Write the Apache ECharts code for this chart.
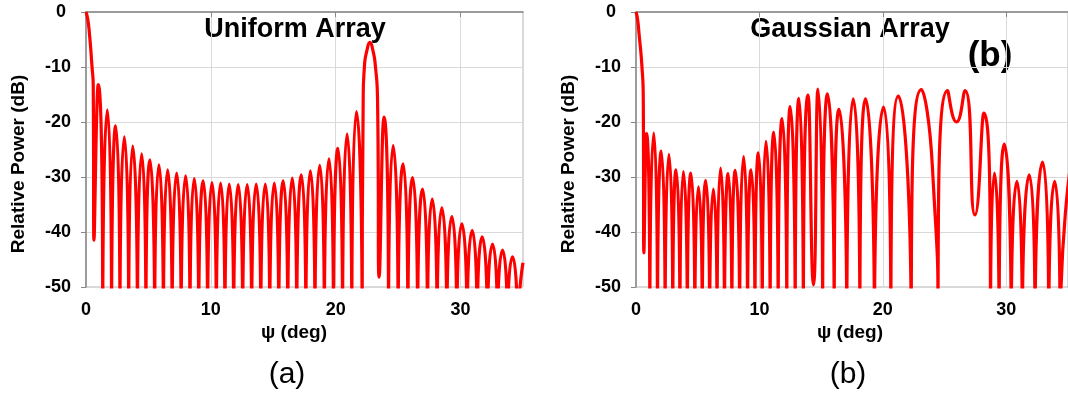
<!DOCTYPE html>
<html>
<head>
<meta charset="utf-8">
<script src="https://cdn.jsdelivr.net/npm/echarts@6/dist/echarts.min.js"></script>
<style>
  html, body { margin: 0; padding: 0; background: #ffffff; }
  #chart { width: 1068px; height: 398px; }
</style>
</head>
<body>
<div id="chart"></div>
<script>
// Axis ticks
const psiTicks = [0, 10, 20, 30];
const dbTicks = [0, -10, -20, -30, -40, -50];

// ---- (a) Uniform array: relative power (dB) versus ψ (deg) ----
// main-lobe roll-off from boresight
const uniformMainLobe = [[0, 0], [0.13, -1.2], [0.27, -3.8], [0.48, -9.9], [0.58, -13.5]];
// flanks of the grating lobe
const uniformGratingLobe = [
  [22.20, -16.0], [22.30, -9.9], [22.51, -6.9],
  [22.97, -6.9], [23.18, -9.9], [23.35, -16.0]
];
// lobe maxima (sidelobes, grating lobe near 22.7°)
const uniformPeaks = [
  [0.98, -13.2], [1.71, -17.8], [2.38, -20.7], [3.07, -22.7], [3.74, -24.4],
  [4.46, -25.8], [5.12, -26.9], [5.84, -27.8], [6.54, -28.7], [7.26, -29.3],
  [7.98, -29.8], [8.67, -30.3], [9.39, -30.7], [10.09, -31.0], [10.78, -31.1],
  [11.47, -31.3], [12.19, -31.4], [12.91, -31.4], [13.63, -31.3], [14.36, -31.3],
  [15.08, -31.1], [15.80, -30.7], [16.52, -30.2], [17.25, -29.6], [17.97, -28.9],
  [18.72, -27.9], [19.46, -26.7], [20.18, -24.8], [20.91, -22.2], [21.66, -18.1],
  [22.74, -5.5],
  [23.86, -19.1], [24.60, -24.3], [25.40, -27.6], [26.16, -30.1], [26.96, -32.2],
  [27.73, -34.0], [28.50, -35.6], [29.30, -37.2], [30.10, -38.5], [30.93, -39.7],
  [31.73, -40.9], [32.56, -42.2], [33.36, -43.3], [34.16, -44.5], [35.00, -45.6]
];
// nulls whose bottom stays inside the plotted range
const uniformShallowNulls = [[0.64, -41.5], [23.48, -48.2]];
// nulls that fall below the -50 dB floor
const uniformDeepNulls = [
  1.34, 2.05, 2.72, 3.42, 4.12, 4.80, 5.50, 6.20, 6.90, 7.62, 8.33, 9.03, 9.74,
  10.44, 11.13, 11.83, 12.55, 13.27, 14.00, 14.72, 15.44, 16.16, 16.88, 17.61,
  18.34, 19.09, 19.82, 20.55, 21.29, 22.12,
  24.23, 25.00, 25.78, 26.56, 27.35, 28.12, 28.90, 29.70, 30.52, 31.33, 32.15,
  32.96, 33.76, 34.56
];

// ---- (b) Gaussian array ----
const gaussMainLobe = [[0, 0], [0.12, -1.2], [0.24, -3.8], [0.48, -9.9], [0.59, -15.9]];
const gaussPeaks = [
  [0.85, -22.1], [1.44, -22.0], [2.05, -25.3], [2.67, -25.9], [3.25, -28.7],
  [3.84, -29.0], [4.45, -29.3], [5.06, -31.8], [5.65, -30.6], [6.27, -32.2],
  [6.85, -28.4], [7.47, -29.4], [8.05, -28.8], [8.72, -26.3], [9.33, -28.7],
  [9.92, -25.6], [10.53, -23.5], [11.17, -21.9], [11.84, -19.4], [12.50, -17.2],
  [13.20, -15.7], [13.94, -15.1], [14.74, -14.0], [15.52, -14.9], [16.45, -17.7],
  [17.60, -15.8], [18.60, -15.8], [20.06, -17.3], [21.25, -15.3], [23.12, -14.1],
  [25.25, -14.3], [26.66, -14.3], [28.18, -18.4], [29.04, -29.3], [29.84, -24.0],
  [30.86, -30.8], [31.86, -29.6], [32.94, -27.3], [33.92, -30.8], [35.20, -28.0]
];
// shallow nulls, dips between merged lobes, and the shoulder after 23°
const gaussShallowNulls = [[0.64, -43.8], [14.38, -49.6], [25.97, -20.0], [27.46, -36.9]];
const gaussShoulders = [[24.02, -28.4]];
const gaussDeepNulls = [
  1.12, 1.74, 2.36, 2.98, 3.56, 4.16, 4.77, 5.37, 5.97, 6.57, 7.17, 7.77, 8.40,
  9.04, 9.64, 10.23, 10.87, 11.52, 12.22, 12.90, 13.56,
  15.12, 16.06, 17.08, 18.14, 19.32, 20.65, 22.30, 24.47,
  28.72, 29.42, 30.40, 31.30, 32.33, 33.44, 34.36
];

const Y_MIN = -50;
const NULL_DEPTH = -120;   // level used for nulls that drop off the plot
const NULL_KNEE = -60;     // where the drop into a null becomes vertical

// Merge the sampled features into one ordered trace; deep nulls are drawn
// as a vertical drop so the lobes keep their rounded tops and steep sides.
function buildTrace(parts, deepPsi) {
  const pts = [].concat(...parts, deepPsi.map(p => [p, NULL_DEPTH]));
  pts.sort((a, b) => a[0] - b[0]);
  const out = [];
  pts.forEach(p => {
    if (p[1] < Y_MIN) {
      out.push([p[0], NULL_KNEE], p, [p[0], NULL_KNEE]);
    } else {
      out.push(p);
    }
  });
  return out;
}

const uniformTrace = buildTrace(
  [uniformMainLobe, uniformGratingLobe, uniformPeaks, uniformShallowNulls], uniformDeepNulls);
const gaussTrace = buildTrace(
  [gaussMainLobe, gaussPeaks, gaussShallowNulls, gaussShoulders], gaussDeepNulls);

const FONT = '"Liberation Sans", Arial, Helvetica, sans-serif';
const AXIS_GREY = '#878787';
const GRID_GREY = '#d9d9d9';

function xAxisFor(gridIndex) {
  return {
    type: 'value', gridIndex: gridIndex, min: 0, max: 35, interval: 10,
    axisLine: { show: true, lineStyle: { color: AXIS_GREY, width: 1.5 } },
    axisTick: { show: true, length: 5, customValues: psiTicks, lineStyle: { color: AXIS_GREY, width: 1 } },
    axisLabel: {
      customValues: psiTicks, margin: 14,
      color: '#000', fontFamily: FONT, fontWeight: 'bold', fontSize: 18
    },
    splitLine: { show: true, lineStyle: { color: GRID_GREY, width: 1 } }
  };
}
function yAxisFor(gridIndex) {
  return {
    type: 'value', gridIndex: gridIndex, min: -50, max: 0, interval: 10,
    axisLine: { show: true, lineStyle: { color: AXIS_GREY, width: 1.5 } },
    axisTick: { show: true, length: 5, lineStyle: { color: AXIS_GREY, width: 1 } },
    axisLabel: {
      customValues: dbTicks, margin: 15,
      color: '#000', fontFamily: FONT, fontWeight: 'bold', fontSize: 18,
      formatter: v => (v === 0 ? '{z|0}' : String(v)),
      rich: { z: { fontFamily: FONT, fontWeight: 'bold', fontSize: 18, color: '#000', padding: [0, 5, 0, 0] } }
    },
    splitLine: { show: true, lineStyle: { color: GRID_GREY, width: 1 } }
  };
}
function curve(data, idx) {
  return {
    type: 'line', xAxisIndex: idx, yAxisIndex: idx, data: data,
    showSymbol: false, smooth: 0.6, clip: true,
    lineStyle: { color: '#ff0000', width: 3.2, join: 'round' },
    itemStyle: { color: '#ff0000' },
    animation: false, silent: true
  };
}
function label(text, x, y, size, weight, rotation) {
  return {
    type: 'text', x: x, y: y, rotation: rotation || 0, silent: true,
    style: {
      text: text, fill: '#000', font: (weight || 'bold') + ' ' + size + 'px ' + FONT,
      textAlign: 'center', textVerticalAlign: 'middle'
    }
  };
}

const chart = echarts.init(document.getElementById('chart'), null, { renderer: 'canvas' });
chart.setOption({
  backgroundColor: '#ffffff',
  animation: false,
  grid: [
    { left: 86, top: 12, width: 437, height: 275, show: true, borderColor: '#b4b4b4', borderWidth: 1, containLabel: false },
    { left: 636, top: 12, width: 437.5, height: 275, show: true, borderColor: '#b4b4b4', borderWidth: 1, containLabel: false }
  ],
  xAxis: [xAxisFor(0), xAxisFor(1)],
  yAxis: [yAxisFor(0), yAxisFor(1)],
  series: [curve(uniformTrace, 0), curve(gaussTrace, 1)],
  graphic: [
    label('Uniform Array', 295, 30, 27),
    label('Gaussian Array', 850, 30, 27),
    label('(b)', 990, 56, 35),
    label('Relative Power (dB)', 19, 164, 19, 'bold', Math.PI / 2),
    label('Relative Power (dB)', 569, 164, 19, 'bold', Math.PI / 2),
    label('ψ (deg)', 294, 333, 19),
    label('ψ (deg)', 850, 333, 19),
    label('(a)', 287, 375, 30, 'normal'),
    label('(b)', 848, 375, 30, 'normal')
  ]
});
</script>
</body>
</html>
